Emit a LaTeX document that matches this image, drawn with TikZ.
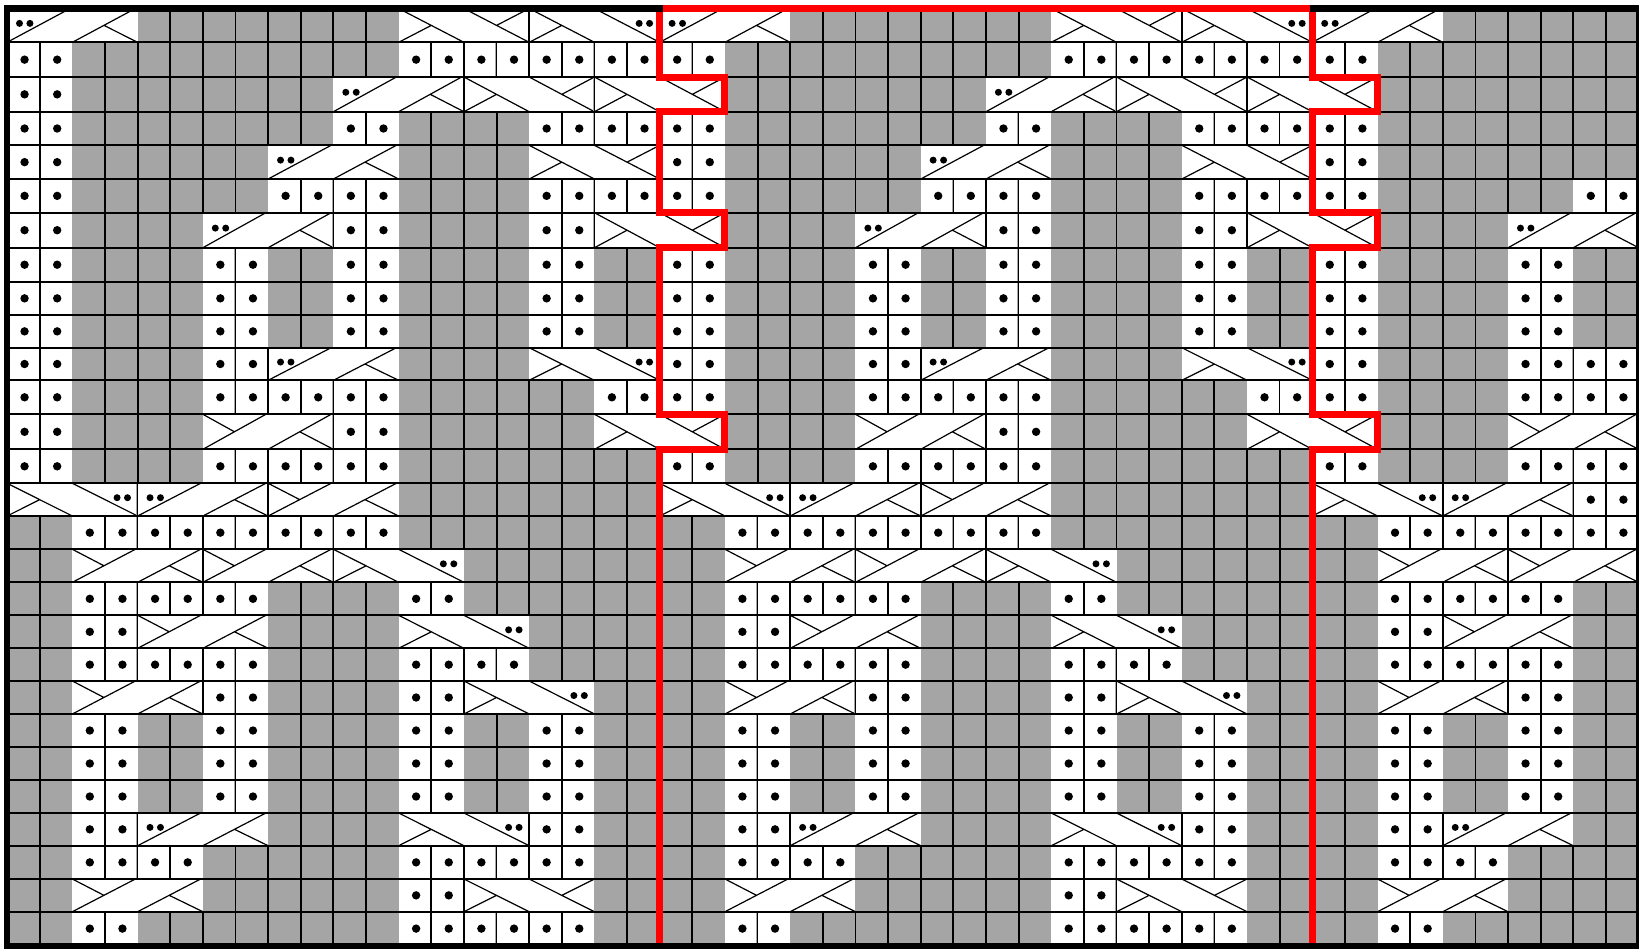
\documentclass[tikz,border=0pt]{standalone}
\tikzset{
  gridline/.style={black,line width=0.95pt},
  wire/.style={black,line width=0.6pt},
  boxline/.style={black,line width=0.8pt},
  redline/.style={red,line width=3.5pt,miter limit=10},
  frameline/.style={black,line width=3.3pt}
}
\definecolor{cellgrey}{RGB}{165,165,165}
\def\rowtops{{8.5,42.3,77,111.7,145.3,179,212.7,247.7,281.7,315,347.7,380.3,414.3,449.3,483.3,516,549.3,582.3,615.3,648.3,681,714,747,780,813,845.7,879,911.7,945.5}}
\def\colzero{7.1}
\def\colw{32.63}
% half tiles, drawn in a unit system of 1 column by 1 row, #1 = 0 or 2
\newcommand\hfa[1]{\draw[wire] (#1,1)--(#1+1.93,0);
  \fill (#1+.38,.44) circle[radius=1.75pt] (#1+.70,.44) circle[radius=1.75pt];}
\newcommand\hfb[1]{\draw[wire] (#1,1)--(#1+1.93,0) (#1+.97,.5)--(#1+2,1);}
\newcommand\hfc[1]{\draw[wire] (#1,1)--(#1+1.93,0) (#1,0)--(#1+.97,.5);}
\newcommand\hfd[1]{\draw[wire] (#1,0)--(#1+2,1) (#1,1)--(#1+1,.5);}
\newcommand\hfe[1]{\draw[wire] (#1,0)--(#1+2,1);
  \fill (#1+1.37,.44) circle[radius=1.75pt] (#1+1.69,.44) circle[radius=1.75pt];}
\newcommand\hff[1]{\draw[wire] (#1,0)--(#1+2,1) (#1+1,.5)--(#1+2,0);}
\newcommand\setrowpos[1]{%
  \pgfmathsetmacro\rowtop{\rowtops[#1]}%
  \pgfmathsetmacro\rowbot{\rowtops[#1+1]}%
  \pgfmathsetmacro\rowh{(\rowbot-\rowtop)*0.5}}
\newcommand\tile[4]{\begingroup\setrowpos{#1}%
  \pgfmathsetmacro\colx{\colzero+\colw*(#2)}%
  \begin{scope}[shift={(\colx,\rowtop)},x=16.315pt,y=-\rowh pt]
    \fill[cellgrey] (-.035,.03) rectangle (4.035,.97);
    \fill[white] (0,.03) rectangle (4,.97);
    \csname hf#3\endcsname{0}\csname hf#4\endcsname{2}
  \end{scope}\endgroup}
\newcommand\vedge[2]{\begingroup\setrowpos{#1}%
  \pgfmathsetmacro\colx{\colzero+\colw*(#2)}%
  \begin{scope}[shift={(\colx,\rowtop)},x=16.315pt,y=-\rowh pt]
    \draw[boxline] (0,0)--(0,1);
  \end{scope}\endgroup}
\newcommand\cells[3]{\begingroup\setrowpos{#1}%
  \pgfmathtruncatemacro\cfirst{#2}\pgfmathtruncatemacro\clast{#3}%
  \foreach \cc in {\cfirst,...,\clast}{%
    \pgfmathsetmacro\colx{\colzero+\colw*\cc}%
    \begin{scope}[shift={(\colx,\rowtop)},x=16.315pt,y=-\rowh pt]
      \fill[cellgrey] (-.035,.03) rectangle (1.035,.97);
      \fill[white] (0,.03) rectangle (1,.97);
      \ifnum\cc>\cfirst \draw[boxline] (0,0)--(0,1);\fi
      \fill (.535,.5) circle[radius=2.1pt];
    \end{scope}}\endgroup}
\newcommand\period[1]{%
  \tile{0}{#1+0}{a}{b}\tile{0}{#1+12}{d}{f}\tile{0}{#1+16}{d}{e}\vedge{0}{#1+16}
  \cells{1}{#1+0}{#1+1}\cells{1}{#1+12}{#1+19}
  \tile{2}{#1+10}{a}{b}\tile{2}{#1+14}{d}{f}\tile{2}{#1+18}{d}{f}\vedge{2}{#1+14}\vedge{2}{#1+18}
  \cells{3}{#1+0}{#1+1}\cells{3}{#1+10}{#1+11}\cells{3}{#1+16}{#1+19}
  \cells{4}{#1+0}{#1+1}\tile{4}{#1+8}{a}{b}\tile{4}{#1+16}{d}{f}
  \cells{5}{#1+0}{#1+1}\cells{5}{#1+8}{#1+11}\cells{5}{#1+16}{#1+19}
  \tile{6}{#1+6}{a}{b}\cells{6}{#1+10}{#1+11}\cells{6}{#1+16}{#1+17}\tile{6}{#1+18}{d}{f}\vedge{6}{#1+10}\vedge{6}{#1+18}
  \foreach \rr in {7,8,9}{\cells{\rr}{#1+0}{#1+1}\cells{\rr}{#1+6}{#1+7}\cells{\rr}{#1+10}{#1+11}\cells{\rr}{#1+16}{#1+17}}
  \cells{10}{#1+0}{#1+1}\cells{10}{#1+6}{#1+7}\tile{10}{#1+8}{a}{b}\tile{10}{#1+16}{d}{e}\vedge{10}{#1+8}
  \cells{11}{#1+0}{#1+1}\cells{11}{#1+6}{#1+11}\cells{11}{#1+18}{#1+19}
  \tile{12}{#1+6}{c}{b}\cells{12}{#1+10}{#1+11}\tile{12}{#1+18}{d}{f}\vedge{12}{#1+10}
  \cells{13}{#1+0}{#1+1}\cells{13}{#1+6}{#1+11}
  \tile{14}{#1+0}{d}{e}\tile{14}{#1+4}{a}{b}\tile{14}{#1+8}{c}{b}\vedge{14}{#1+4}\vedge{14}{#1+8}
  \cells{15}{#1+2}{#1+11}
  \tile{16}{#1+2}{c}{b}\tile{16}{#1+6}{c}{b}\tile{16}{#1+10}{d}{e}\vedge{16}{#1+6}\vedge{16}{#1+10}
  \cells{17}{#1+2}{#1+7}\cells{17}{#1+12}{#1+13}
  \cells{18}{#1+2}{#1+3}\tile{18}{#1+4}{c}{b}\tile{18}{#1+12}{d}{e}\vedge{18}{#1+4}
  \cells{19}{#1+2}{#1+7}\cells{19}{#1+12}{#1+15}
  \tile{20}{#1+2}{c}{b}\cells{20}{#1+6}{#1+7}\cells{20}{#1+12}{#1+13}\tile{20}{#1+14}{d}{e}\vedge{20}{#1+6}\vedge{20}{#1+14}
  \foreach \rr in {21,22,23}{\cells{\rr}{#1+2}{#1+3}\cells{\rr}{#1+6}{#1+7}\cells{\rr}{#1+12}{#1+13}\cells{\rr}{#1+16}{#1+17}}
  \cells{24}{#1+2}{#1+3}\tile{24}{#1+4}{a}{b}\tile{24}{#1+12}{d}{e}\cells{24}{#1+16}{#1+17}\vedge{24}{#1+4}\vedge{24}{#1+16}
  \cells{25}{#1+2}{#1+5}\cells{25}{#1+12}{#1+17}
  \tile{26}{#1+2}{c}{b}\cells{26}{#1+12}{#1+13}\tile{26}{#1+14}{d}{f}\vedge{26}{#1+14}
  \cells{27}{#1+2}{#1+3}\cells{27}{#1+12}{#1+17}
}
% red boundary, with its notches at rows 2, 6 and 12; #1 = column
\newcommand\redboundary[1]{%
  \pgfmathsetmacro\rxa{\colzero+\colw*#1}%
  \pgfmathsetmacro\rxb{\colzero+\colw*(#1+2)}%
  \draw[redline] (\rxa,8.5)
    --(\rxa,77)--(\rxb,77)--(\rxb,111.7)--(\rxa,111.7)
    --(\rxa,212.7)--(\rxb,212.7)--(\rxb,247.7)--(\rxa,247.7)
    --(\rxa,414.3)--(\rxb,414.3)--(\rxb,449.3)--(\rxa,449.3)
    --(\rxa,946);}
\begin{document}
\begin{tikzpicture}[x=0.5pt,y=-0.5pt]
\useasboundingbox (0,0) rectangle (1639,949);
% grey ground and grid
\fill[cellgrey] (7,8.5) rectangle (1639.2,946);
\foreach \cc in {1,...,49}{\pgfmathsetmacro\gx{\colzero+\colw*\cc}\draw[gridline] (\gx,8.5)--(\gx,946);}
\foreach \rr in {1,...,27}{\pgfmathsetmacro\gy{\rowtops[\rr]}\draw[gridline] (7,\gy)--(1639.2,\gy);}
% left and middle periods
\period{0}
\period{20}
\cells{2}{0}{1}\cells{6}{0}{1}\cells{12}{0}{1}
% partial right period
\tile{0}{40}{a}{b}
\cells{1}{40}{41}\cells{3}{40}{41}\cells{4}{40}{41}
\cells{5}{40}{41}\cells{5}{48}{49}
\tile{6}{46}{a}{b}
\foreach \rr in {7,8,9}{\cells{\rr}{40}{41}\cells{\rr}{46}{47}}
\cells{10}{40}{41}\cells{10}{46}{49}
\cells{11}{40}{41}\cells{11}{46}{49}
\tile{12}{46}{c}{b}
\cells{13}{40}{41}\cells{13}{46}{49}
\tile{14}{40}{d}{e}\tile{14}{44}{a}{b}\cells{14}{48}{49}\vedge{14}{44}\vedge{14}{48}
\cells{15}{42}{49}
\tile{16}{42}{c}{b}\tile{16}{46}{c}{b}\vedge{16}{46}
\cells{17}{42}{47}
\cells{18}{42}{43}\tile{18}{44}{c}{b}\vedge{18}{44}
\cells{19}{42}{47}
\tile{20}{42}{c}{b}\cells{20}{46}{47}\vedge{20}{46}
\foreach \rr in {21,22,23}{\cells{\rr}{42}{43}\cells{\rr}{46}{47}}
\cells{24}{42}{43}\tile{24}{44}{a}{b}\vedge{24}{44}
\cells{25}{42}{45}
\tile{26}{42}{c}{b}
\cells{27}{42}{43}
% boundaries and frame
\redboundary{20}
\redboundary{40}
\draw[frameline] (7,8.5) rectangle (1639.2,946);
\draw[red,line width=3.5pt] (663.4,8.5)--(1309.7,8.5);
\end{tikzpicture}
\end{document}
